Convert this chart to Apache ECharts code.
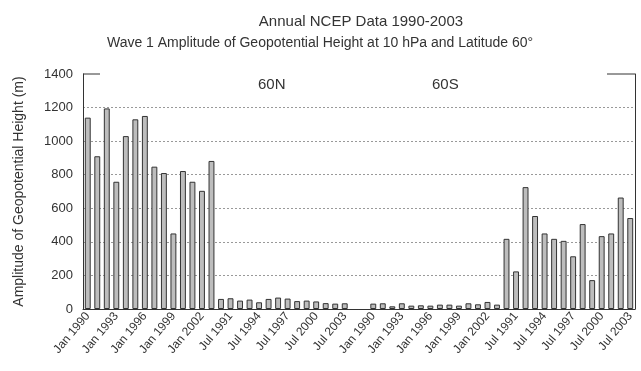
<!DOCTYPE html>
<html>
<head>
<meta charset="utf-8">
<script src="https://cdn.jsdelivr.net/npm/echarts@6/dist/echarts.min.js"></script>
<style>
html,body{margin:0;padding:0;background:#fff;}
#chart{width:641px;height:371px;}
</style>
</head>
<body>
<div id="chart"></div>
<script>
// ---- data ----
var years = [1990,1991,1992,1993,1994,1995,1996,1997,1998,1999,2000,2001,2002,2003];
var lat60N_Jan = [1140, 910, 1195, 758, 1030, 1130, 1150, 848, 810, 450, 822, 758, 704, 882];
var lat60N_Jul = [60, 64, 50, 56, 40, 60, 68, 62, 47, 50, 45, 35, 32, 34];
var lat60S_Jan = [32, 34, 16, 34, 20, 22, 20, 26, 26, 20, 34, 28, 42, 26];
var lat60S_Jul = [418, 224, 726, 554, 450, 418, 406, 314, 506, 172, 434, 450, 664, 542];
var yTicks = [0, 200, 400, 600, 800, 1000, 1200, 1400];

var categories = [];
var values = [];
years.forEach(function(y,i){ categories.push('Jan ' + y); values.push(lat60N_Jan[i]); });
years.forEach(function(y,i){ categories.push('Jul ' + y); values.push(lat60N_Jul[i]); });
categories.push(''); values.push(null);
categories.push(' '); values.push(null);
years.forEach(function(y,i){ categories.push('Jan ' + y); values.push(lat60S_Jan[i]); });
years.forEach(function(y,i){ categories.push('Jul ' + y); values.push(lat60S_Jul[i]); });

var FONT = '"Liberation Sans", Arial, sans-serif';
var chart = echarts.init(document.getElementById('chart'), null, {renderer: 'canvas'});
var option = {
  animation: false,
  backgroundColor: '#fff',
  title: [
    {text: 'Annual NCEP Data 1990-2003', left: 356, top: 9, textAlign: 'center',
     textStyle: {fontFamily: FONT, fontSize: 15, fontWeight: 'normal', color: '#333'}},
    {text: 'Wave 1 Amplitude of Geopotential Height at 10 hPa and Latitude 60°', left: 315, top: 31, textAlign: 'center',
     textStyle: {fontFamily: FONT, fontSize: 14, fontWeight: 'normal', color: '#333'}},
    {text: '60N', left: 253, top: 72,
     textStyle: {fontFamily: FONT, fontSize: 15, fontWeight: 'normal', color: '#333'}},
    {text: '60S', left: 427, top: 72,
     textStyle: {fontFamily: FONT, fontSize: 15, fontWeight: 'normal', color: '#333'}}
  ],
  grid: {left: 83, right: 6, top: 74, bottom: 62, containLabel: false},
  xAxis: {
    type: 'category',
    data: categories,
    axisLine: {show: true, lineStyle: {color: '#333', width: 1}},
    axisTick: {show: false},
    axisLabel: {interval: 2, rotate: 50, fontFamily: FONT, fontSize: 12, color: '#333', margin: 5},
    splitLine: {show: false}
  },
  yAxis: [{
    type: 'value',
    min: yTicks[0], max: yTicks[yTicks.length-1], interval: 200,
    name: 'Amplitude of Geopotential Height (m)',
    nameLocation: 'middle', nameGap: 57,
    nameTextStyle: {fontFamily: FONT, fontSize: 14, color: '#333'},
    axisLine: {show: true, lineStyle: {color: '#333', width: 1}},
    axisTick: {show: false},
    axisLabel: {fontFamily: FONT, fontSize: 13, color: '#333', margin: 10,
      formatter: function(v){ return String(v); }},
    splitLine: {show: true, lineStyle: {type: [2, 2], width: 1,
      color: ['#999','#999','#999','#999','#999','#999','#999','rgba(0,0,0,0)']}}
  }, {
    type: 'value',
    position: 'right',
    min: yTicks[0], max: yTicks[yTicks.length-1], interval: 200,
    axisLine: {show: true, lineStyle: {color: '#333', width: 1}},
    axisTick: {show: false},
    axisLabel: {show: false},
    splitLine: {show: false}
  }],
  series: [{
    type: 'bar',
    data: values,
    barWidth: '62%',
    itemStyle: {color: '#bdbdbd', borderColor: '#333', borderWidth: 1}
  }]
};
chart.setOption(option);

// frame stubs at the top corners
var gridRect = chart.getModel().getComponent('grid').coordinateSystem.getRect();
chart.setOption({
  graphic: [
    {type: 'line', shape: {x1: gridRect.x, y1: gridRect.y, x2: gridRect.x + 17, y2: gridRect.y},
     style: {stroke: '#333', lineWidth: 1}},
    {type: 'line', shape: {x1: gridRect.x + gridRect.width - 28, y1: gridRect.y, x2: gridRect.x + gridRect.width, y2: gridRect.y},
     style: {stroke: '#333', lineWidth: 1}}
  ]
});
</script>
</body>
</html>
